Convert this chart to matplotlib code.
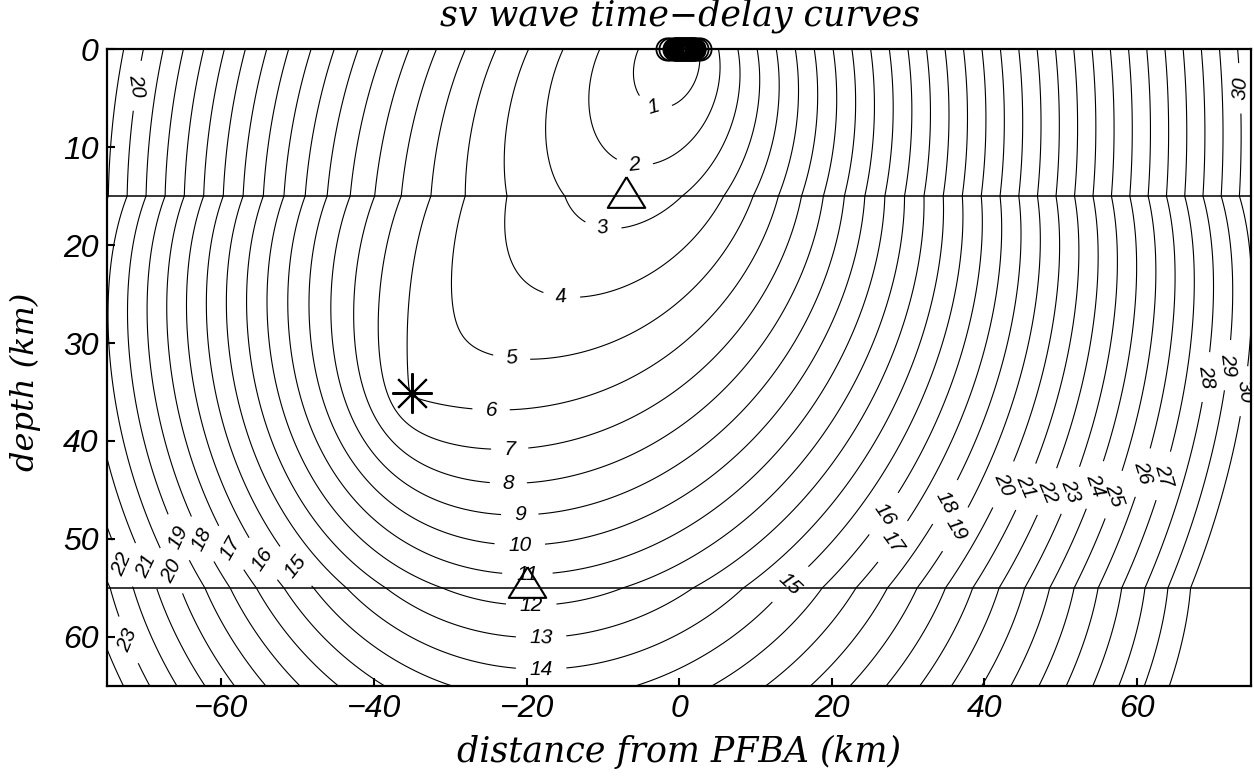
import numpy as np
import matplotlib
matplotlib.use("Agg")
import matplotlib.pyplot as plt

# ---------------- data ----------------
# station PFBA at the origin, earthquake source (star)
station_xz = (0.0, 0.0)
source_xz = (-35.0, 35.1)
# model layers: tops (km) and velocities (km/s)
layer_tops = [0.0, 15.0, 55.0]
vs_layers = [3.515, 4.069, 4.50]
vp_layers = [6.99, 6.99, 8.10]
# layer boundaries drawn as lines
boundary_depths = [15.0, 55.0]
# triangles
tri_x = [-7.0, -19.9]
tri_z = [14.6, 54.4]
# array stations (circles at the surface)
array_x = [-1.6, -1.17, -0.74, -0.5, -0.375, -0.25, -0.125, 0.0, 0.125, 0.25, 0.375,
           0.5, 0.625, 0.75, 0.875, 1.0, 1.125, 1.25, 1.375, 1.5, 1.625, 1.75,
           1.875, 2.0, 2.27, 2.7]
array_z = [0.0] * len(array_x)
# contour levels (s)
levels = list(range(1, 31))
# contour label positions: level, x, depth
label_level = [1, 2, 3, 4, 5, 6, 7, 8, 9, 10, 11, 12, 13, 14,
               20, 30, 28, 29, 30,
               15, 16, 17, 18, 19, 20, 21, 22, 23, 24, 25, 26, 27,
               15, 16, 17, 18, 19, 20, 21, 22, 23]
label_x = [-3.7, -6.2, -10.5, -15.8, -22.2, -24.7, -22.2, -22.4, -20.9, -20.9, -19.9, -19.4, -18.1, -18.1,
           -72.3, 73.8, 68.4, 71.2, 73.0,
           14.3, 26.4, 27.7, 34.3, 35.5, 41.8, 44.9, 47.7, 50.5, 53.8, 56.3, 59.8, 62.3,
           -50.3, -54.3, -58.5, -62.7, -65.8, -66.2, -70.0, -72.4, -72.8]
label_z = [6.9, 14.0, 21.0, 27.7, 33.3, 37.9, 41.3, 44.5, 47.6, 50.4, 53.3, 56.6, 60.1, 63.5,
           3.6, 4.0, 33.4, 32.2, 34.8,
           54.4, 47.2, 50.1, 46.0, 48.7, 44.2, 44.5, 45.0, 44.8, 44.3, 45.3, 43.0, 43.3,
           52.8, 51.9, 50.8, 50.1, 49.9, 53.1, 52.8, 52.3, 60.5]

xticks = [-60, -40, -20, 0, 20, 40, 60]
yticks = [0, 10, 20, 30, 40, 50, 60]

# ------- delay model: P wave source -> point, SV wave point -> station, minus direct P -------
tops = np.array(layer_tops)
bottoms = np.append(tops[1:], 1e9)
sS = 1.0 / np.array(vs_layers)
sP = 1.0 / np.array(vp_layers)


def cum(zz, s):
    zz = np.asarray(zz, float)
    out = np.zeros(zz.shape)
    for t, b, si in zip(tops, bottoms, s):
        out = out + si * np.clip(zz - t, 0, b - t)
    return out


def local(zz, s):
    zz = np.asarray(zz, float)
    idx = np.searchsorted(tops, zz, side="right") - 1
    return np.asarray(s)[np.clip(idx, 0, len(s) - 1)]


def mean_slow(z1, z2, s):
    z1, z2 = np.broadcast_arrays(np.asarray(z1, float), np.asarray(z2, float))
    dz = z2 - z1
    small = np.abs(dz) < 1e-6
    safe = np.where(small, 1.0, dz)
    m = (cum(z2, s) - cum(z1, s)) / safe
    return np.where(small, local(0.5 * (z1 + z2), s), m)


x = np.linspace(-75, 75, 751)
z = np.linspace(0, 65, 326)
X, Z = np.meshgrid(x, z)
rx, rz = station_xz
sx, sz = source_xz
tS = np.hypot(X - rx, Z - rz) * mean_slow(Z, np.full_like(Z, rz), sS)
tP = np.hypot(X - sx, Z - sz) * mean_slow(Z, np.full_like(Z, sz), sP)
tdirect = np.hypot(sx - rx, sz - rz) * mean_slow(np.array(rz), np.array(sz), sP)
delay = tS + tP - tdirect

# ---------------- plot ----------------
fig = plt.figure(figsize=(12.54, 7.83), dpi=100)
ax = fig.add_axes([0.0853, 0.1239, 0.9127, 0.8135])

lab_levels = np.array(label_level)
lx_arr = np.array(label_x)
lz_arr = np.array(label_z)
for lv in levels:
    cs = ax.contour(X, Z, delay, levels=[lv], colors="black", linewidths=0.8)
    sel = lab_levels == lv
    if sel.any():
        pts = list(zip(lx_arr[sel], lz_arr[sel]))
        cs.clabel(manual=pts, inline=True, inline_spacing=12, fontsize=15, fmt="%d")
        for t in cs.labelTexts:
            t.set_fontstyle("italic")
            t.set_family("Liberation Sans")

for d in boundary_depths:
    ax.axhline(d, color="black", lw=1.1)

tri_marker = [(0, 0.82), (-1, -0.82), (1, -0.82), (0, 0.82)]
ax.plot(tri_x, tri_z, linestyle="none", marker=tri_marker, markersize=27,
        markerfacecolor="none", markeredgecolor="black", markeredgewidth=1.5)
ax.plot([sx], [sz], linestyle="none", marker=(8, 2, 0), markersize=29,
        markeredgecolor="black", markeredgewidth=1.5)
ax.plot(array_x, array_z, linestyle="none", marker="o", markersize=16,
        markerfacecolor="none", markeredgecolor="black", markeredgewidth=1.3,
        clip_on=False, zorder=5)

ax.set_xlim(-75, 75)
ax.set_ylim(65, 0)
ax.set_xticks(xticks)
ax.set_yticks(yticks)
tickfont = dict(family="Liberation Sans", style="italic", size=23)
ax.set_xticklabels([f"{v}" if v >= 0 else f"\u2212{-v}" for v in xticks], fontdict=tickfont)
ax.set_yticklabels([str(v) for v in yticks], fontdict=tickfont)
ax.tick_params(direction="in", length=6, width=1.5, top=False, right=False, pad=6)
for sp in ax.spines.values():
    sp.set_linewidth(1.6)

ax.set_xlabel("distance from PFBA (km)", family="DejaVu Serif", style="italic", size=25)
ax.xaxis.set_label_coords(0.5, -0.1036)
ax.xaxis.label.set_va("center")
ax.set_ylabel("depth (km)", family="DejaVu Serif", style="italic", size=23)
ax.yaxis.set_label_coords(-0.0716, 0.477)
ax.yaxis.label.set_va("center")
fig.text(0.5423, 1 - 16 / 783, "sv wave time\u2212delay curves", family="DejaVu Serif",
         style="italic", size=25, ha="center", va="center")

fig.savefig("out.png", dpi=100)
